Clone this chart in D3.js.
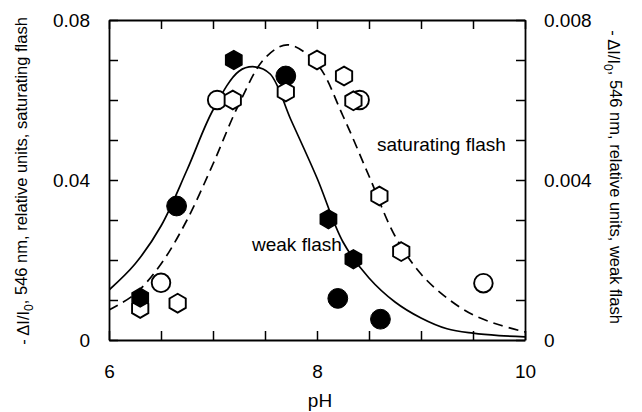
<!DOCTYPE html>
<html>
<head>
<meta charset="utf-8">
<script src="https://cdn.jsdelivr.net/npm/d3@7"></script>
<style>
  html, body { margin: 0; padding: 0; background: #fff; }
  svg { display: block; }
  text { font-family: "Liberation Sans", Arial, Helvetica, sans-serif; fill: #000; }
</style>
</head>
<body>
<svg id="chart" width="642" height="412"></svg>
<script>
// ---- data ----
// x axis: pH
const xTickValues = [6, 6.5, 7, 7.5, 8, 8.5, 9, 9.5, 10];
const xTickLabels = {6: "6", 8: "8", 10: "10"};
// left axis: saturating flash
const yLeftTicks = [0, 0.01, 0.02, 0.03, 0.04, 0.05, 0.06, 0.07, 0.08];
const yLeftLabels = {0: "0", 0.04: "0.04", 0.08: "0.08"};
// right axis: weak flash
const yRightTicks = [0, 0.001, 0.002, 0.003, 0.004, 0.005, 0.006, 0.007, 0.008];
const yRightLabels = {0: "0", 0.004: "0.004", 0.008: "0.008"};

// fitted curve, saturating flash (dashed, left axis)
const satCurvePH  = [6.0, 6.25, 6.5, 6.75, 7.0, 7.25, 7.5, 7.72, 8.0, 8.25, 8.5, 8.75, 9.0, 9.25, 9.5, 9.75, 10.0];
const satCurveVal = [0.0075, 0.0115, 0.019, 0.030, 0.044, 0.059, 0.0705, 0.0738, 0.069, 0.056, 0.041, 0.026, 0.0165, 0.0105, 0.0063, 0.0038, 0.002];
// fitted curve, weak flash (solid, right axis)
const weakCurvePH  = [6.0, 6.25, 6.5, 6.75, 7.0, 7.25, 7.4, 7.55, 7.75, 8.0, 8.25, 8.5, 8.75, 9.0, 9.25, 9.5, 9.75, 10.0];
const weakCurveVal = [0.00125, 0.0019, 0.00285, 0.00425, 0.00575, 0.00672, 0.00683, 0.00665, 0.0055, 0.00405, 0.00245, 0.00155, 0.00095, 0.00055, 0.00028, 0.00017, 0.00011, 0.00008];

// measured points, saturating flash (open symbols, left axis)
const satHexPH  = [6.30, 6.66, 7.19, 7.70, 8.00, 8.26, 8.35, 8.60, 8.81];
const satHexVal = [0.0079, 0.0092, 0.060, 0.062, 0.070, 0.066, 0.0598, 0.036, 0.0221];
const satCirPH  = [6.50, 7.04, 8.41, 9.60];
const satCirVal = [0.0143, 0.060, 0.060, 0.0142];
// measured points, weak flash (filled symbols, right axis)
const weakHexPH  = [6.30, 7.20, 8.11, 8.35];
const weakHexVal = [0.00106, 0.0070, 0.00302, 0.00202];
const weakCirPH  = [6.65, 7.70, 8.20, 8.61];
const weakCirVal = [0.00335, 0.0066, 0.00104, 0.00052];

// ---- layout ----
const L = 109, R = 525, T = 20, B = 340;
const svg = d3.select("#chart");
const x = d3.scaleLinear().domain([6, 10]).range([L, R]);
const yL = d3.scaleLinear().domain([0, 0.08]).range([B, T]);
const yR = d3.scaleLinear().domain([0, 0.008]).range([B, T]);

const TICK = 9;
const fmt = (map) => (d) => { const k = Object.keys(map).find(kk => Math.abs(+kk - d) < 1e-9); return k !== undefined ? map[k] : ""; };

function styleAxis(g) {
  g.selectAll(".domain").attr("stroke", "#000").attr("stroke-width", 1.8);
  g.selectAll(".tick line").attr("stroke", "#000").attr("stroke-width", 1.5);
  g.selectAll(".tick text").attr("font-size", 19).attr("font-family", '"Liberation Sans", Arial, sans-serif').attr("fill", "#000");
}

// clip for curves
svg.append("clipPath").attr("id", "plotclip").append("rect")
  .attr("x", L).attr("y", T).attr("width", R - L).attr("height", B - T);

// curves
const curves = svg.append("g").attr("clip-path", "url(#plotclip)");
const satLine = d3.line().x(d => x(d[0])).y(d => yL(d[1])).curve(d3.curveCatmullRom.alpha(0.5));
const weakLine = d3.line().x(d => x(d[0])).y(d => yR(d[1])).curve(d3.curveCatmullRom.alpha(0.5));
curves.append("path")
  .attr("d", satLine(d3.zip(satCurvePH, satCurveVal)))
  .attr("fill", "none").attr("stroke", "#000").attr("stroke-width", 1.7)
  .attr("stroke-dasharray", "10,6");
curves.append("path")
  .attr("d", weakLine(d3.zip(weakCurvePH, weakCurveVal)))
  .attr("fill", "none").attr("stroke", "#000").attr("stroke-width", 1.7);

// markers
const HEXR = 9.4, CIRR = 9.3;
const hexPath = (() => {
  const pts = d3.range(6).map(i => {
    const a = Math.PI / 3 * i - Math.PI / 2;
    return [HEXR * Math.cos(a), HEXR * Math.sin(a)];
  });
  return "M" + pts.map(p => p.join(",")).join("L") + "Z";
})();

const marks = svg.append("g");
marks.selectAll("circle.satc").data(d3.zip(satCirPH, satCirVal)).join("circle")
  .attr("class", "satc")
  .attr("cx", d => x(d[0])).attr("cy", d => yL(d[1])).attr("r", CIRR)
  .attr("fill", "#fff").attr("stroke", "#000").attr("stroke-width", 1.9);
marks.selectAll("circle.weakc").data(d3.zip(weakCirPH, weakCirVal)).join("circle")
  .attr("class", "weakc")
  .attr("cx", d => x(d[0])).attr("cy", d => yR(d[1])).attr("r", CIRR + 0.6)
  .attr("fill", "#000").attr("stroke", "#000").attr("stroke-width", 1);
marks.selectAll("path.sath").data(d3.zip(satHexPH, satHexVal)).join("path")
  .attr("class", "sath")
  .attr("transform", d => `translate(${x(d[0])},${yL(d[1])})`)
  .attr("d", hexPath)
  .attr("fill", "#fff").attr("stroke", "#000").attr("stroke-width", 1.9);
marks.selectAll("path.weakh").data(d3.zip(weakHexPH, weakHexVal)).join("path")
  .attr("class", "weakh")
  .attr("transform", d => `translate(${x(d[0])},${yR(d[1])})`)
  .attr("d", hexPath)
  .attr("fill", "#000").attr("stroke", "#000").attr("stroke-width", 1.5);

// axes (ticks pointing inward)
const gB = svg.append("g").attr("transform", `translate(0,${B})`)
  .call(d3.axisBottom(x).tickValues(xTickValues).tickSizeInner(-TICK).tickSizeOuter(0).tickPadding(25).tickFormat(fmt(xTickLabels)));
styleAxis(gB);
const gT = svg.append("g").attr("transform", `translate(0,${T})`)
  .call(d3.axisTop(x).tickValues(xTickValues).tickSizeInner(-TICK).tickSizeOuter(0).tickFormat(""));
styleAxis(gT);
const gL = svg.append("g").attr("transform", `translate(${L},0)`)
  .call(d3.axisLeft(yL).tickValues(yLeftTicks).tickSizeInner(-TICK).tickSizeOuter(0).tickPadding(19).tickFormat(fmt(yLeftLabels)));
styleAxis(gL);
const gR = svg.append("g").attr("transform", `translate(${R},0)`)
  .call(d3.axisRight(yR).tickValues(yRightTicks).tickSizeInner(-TICK).tickSizeOuter(0).tickPadding(19).tickFormat(fmt(yRightLabels)));
styleAxis(gR);

// axis titles
svg.append("text")
  .attr("x", x(8) + 3).attr("y", 407)
  .attr("text-anchor", "middle").attr("font-size", 19)
  .text("pH");

function yTitle(tx, ty, rot, tail) {
  const t = svg.append("text")
    .attr("transform", `translate(${tx},${ty}) rotate(${rot})`)
    .attr("text-anchor", "middle").attr("font-size", 16.5).attr("dy", "0.35em");
  t.append("tspan").text("- \u0394I/I");
  t.append("tspan").attr("font-size", 12).attr("dy", "0.35em").text("0");
  t.append("tspan").attr("dy", "-0.35em").text(tail);
}
yTitle(23, 181, -90, ", 546 nm, relative units, saturating flash");
yTitle(614, 177, 90, ", 546 nm, relative units, weak flash");

// in-plot labels
svg.append("text").attr("x", 377).attr("y", 151).attr("font-size", 19).text("saturating flash");
svg.append("text").attr("x", 252).attr("y", 251).attr("font-size", 19).text("weak flash");
</script>
</body>
</html>
